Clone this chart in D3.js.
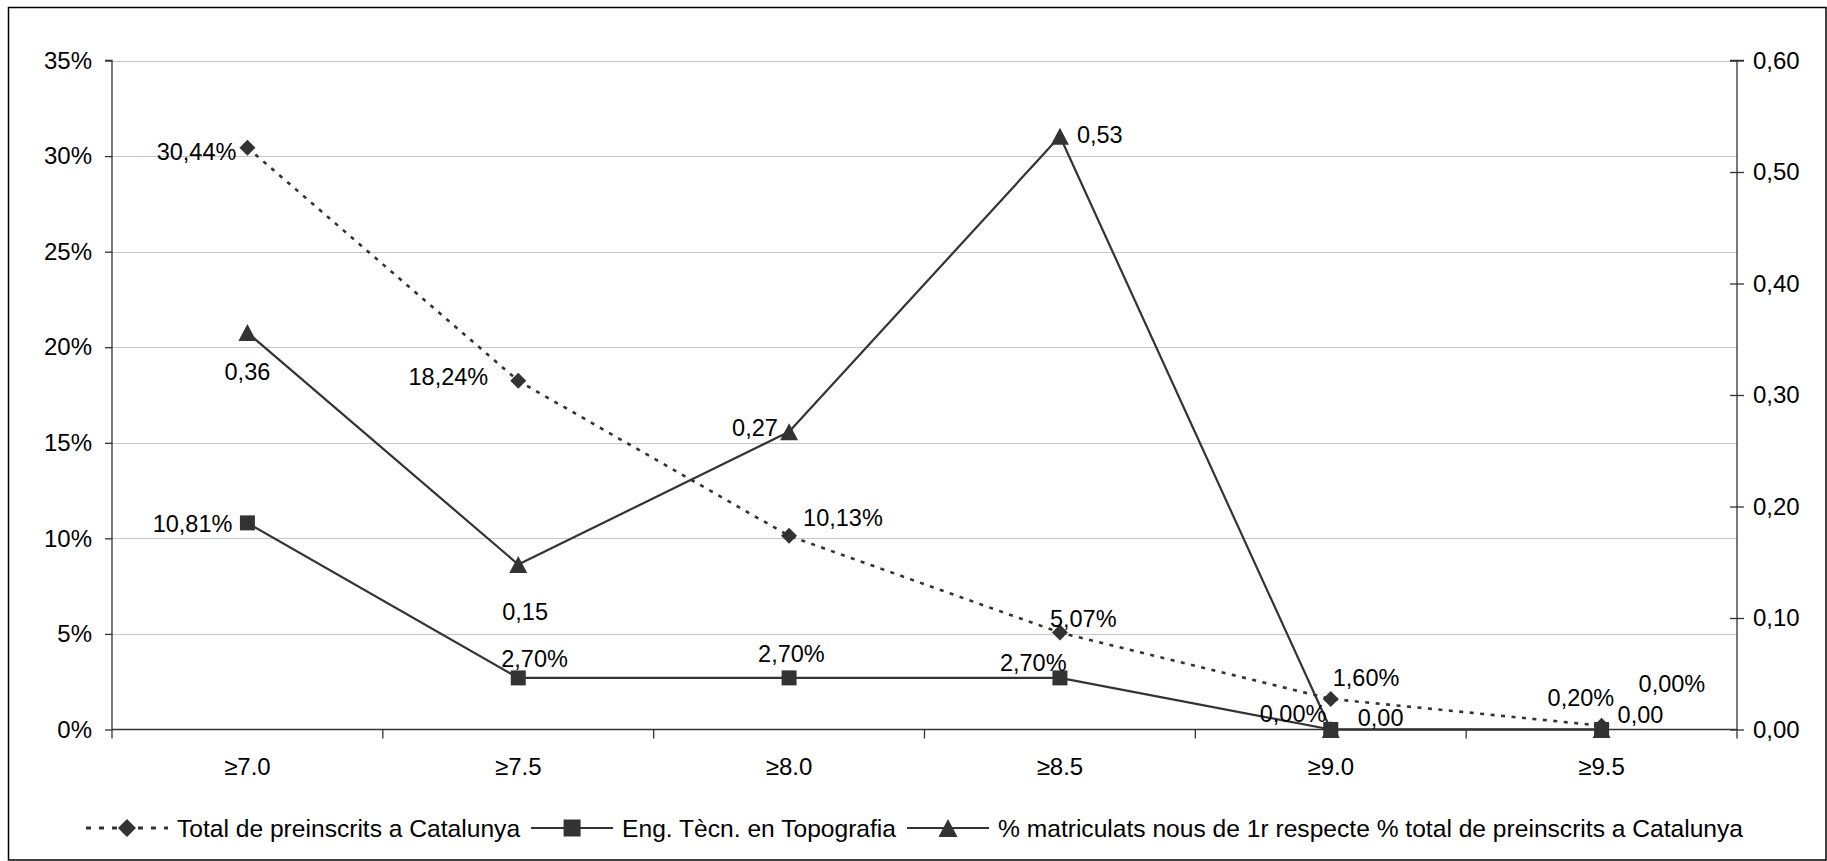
<!DOCTYPE html>
<html>
<head>
<meta charset="utf-8">
<script src="https://cdn.jsdelivr.net/npm/d3@7/dist/d3.min.js"></script>
<style>
  html, body { margin: 0; padding: 0; background: #fff; }
  svg { display: block; }
  text { font-family: "Liberation Sans", Arial, sans-serif; fill: #000; }
</style>
</head>
<body>
<svg id="chart" width="1827" height="861"></svg>
<script>
// ---------- data ----------
const categories = ["≥7.0", "≥7.5", "≥8.0", "≥8.5", "≥9.0", "≥9.5"];
const totalPreinscrits = [30.44, 18.24, 10.13, 5.07, 1.60, 0.20];      // % (left axis)
const engTopografia   = [10.81, 2.70, 2.70, 2.70, 0.00, 0.00];        // % (left axis)
const ratioMatriculats = [0.356, 0.148, 0.267, 0.532, 0.00, 0.00];     // ratio (right axis)
const leftTicks  = [0, 5, 10, 15, 20, 25, 30, 35];
const rightTicks = [0, 0.1, 0.2, 0.3, 0.4, 0.5, 0.6];
const seriesNames = [
  "Total de preinscrits a Catalunya",
  "Eng. Tècn. en Topografia",
  "% matriculats nous de 1r respecte % total de preinscrits a Catalunya"
];

// ---------- label placement (layout only) ----------
const labelPlaceTotal = [["end",-11,12],["end",-30,4],["start",14,-10],["start",-10,-6],["start",2,-13],["start",-54,-20]];
const labelPlaceEng   = [["end",-15,9],["start",-17,-11],["start",-31,-16],["start",-60,-7],["start",-71,-8],["start",37,-38]];
const labelPlaceRatio = [["middle",0,47],["start",-16,56],["start",-57,4],["start",17,7],["start",27,-4],["start",16,-7]];

// ---------- setup ----------
const svg = d3.select("#chart");
const pLeft = 112, pRight = 1737, pTop = 60.5, pBottom = 729.5;
const ink = "#333333";
const fs = "23.5px";

const fmt2 = v => v.toFixed(2).replace(".", ",");

const x = d3.scaleBand().domain(categories).range([pLeft, pRight]);
const yL = d3.scaleLinear().domain([0, 35]).range([pBottom, pTop]);
const yR = d3.scaleLinear().domain([0, 0.6]).range([pBottom, pTop]);
const cx = c => x(c) + x.bandwidth() / 2;

// outer frame
svg.append("rect").attr("x", 8.5).attr("y", 7.5).attr("width", 1817.5).attr("height", 852.5)
  .attr("fill", "none").attr("stroke", "#000").attr("stroke-width", 1.5);

// gridlines
svg.append("g").selectAll("line").data(leftTicks.filter(d => d > 0)).join("line")
  .attr("x1", pLeft).attr("x2", pRight)
  .attr("y1", d => Math.round(yL(d)) + 0.5).attr("y2", d => Math.round(yL(d)) + 0.5)
  .attr("stroke", "#c6c6c6").attr("stroke-width", 1.2);

// left axis
const gL = svg.append("g").attr("transform", `translate(${pLeft},0)`)
  .call(d3.axisLeft(yL).tickValues(leftTicks).tickFormat(d => d + "%").tickSize(7).tickPadding(13));
gL.selectAll("text").style("font-size", "24px").attr("fill", "#000");
gL.selectAll("line, path").attr("stroke", ink).attr("stroke-width", 1.3);
gL.select(".domain").attr("d", `M-7,${pTop}H0V${pBottom}`);

// right axis
const gR = svg.append("g").attr("transform", `translate(${pRight},0)`)
  .call(d3.axisRight(yR).tickValues(rightTicks).tickFormat(fmt2).tickSize(7).tickPadding(9));
gR.selectAll("text").style("font-size", "24px").attr("fill", "#000");
gR.selectAll(".tick line").attr("x1", -7);
gR.selectAll("line, path").attr("stroke", ink).attr("stroke-width", 1.3);
gR.select(".domain").attr("d", `M-7,${pTop}H7M0,${pTop}V${pBottom}`);

// x axis
const gX = svg.append("g").attr("transform", `translate(0,${pBottom})`)
  .call(d3.axisBottom(x).tickSize(0).tickPadding(28.5));
gX.selectAll("text").style("font-size", "24px").attr("fill", "#000");
gX.select(".domain").attr("stroke", ink).attr("stroke-width", 1.5).attr("d", `M${pLeft},0H${pRight}`);
const boundaries = categories.map(c => x(c)).concat([pRight]);
gX.append("g").selectAll("line").data(boundaries).join("line")
  .attr("x1", d => d).attr("x2", d => d).attr("y1", 0).attr("y2", 9)
  .attr("stroke", ink).attr("stroke-width", 1.3);

// ---------- markers ----------
const symbols = {
  diamond: (g, s) => g.append("path").attr("d", `M0,${-s}L${s},0L0,${s}L${-s},0Z`).attr("fill", ink),
  square: (g, s) => g.append("rect").attr("x", -s).attr("y", -s).attr("width", 2*s).attr("height", 2*s).attr("fill", ink),
  triangle: (g, s) => g.append("path").attr("d", `M0,${-s}L${s*1.06},${s}L${-s*1.06},${s}Z`).attr("fill", ink)
};

function drawSeries(values, yScale, symbol, size, dash) {
  const g = svg.append("g");
  const line = d3.line().x((d, i) => cx(categories[i])).y(d => yScale(d));
  g.append("path").attr("d", line(values)).attr("fill", "none")
    .attr("stroke", ink).attr("stroke-width", dash ? 2.6 : 2.2)
    .attr("stroke-dasharray", dash || null).attr("stroke-linejoin", "round");
  values.forEach((v, i) => {
    const mg = g.append("g").attr("transform", `translate(${cx(categories[i])},${yScale(v)})`);
    symbols[symbol](mg, size);
  });
  return g;
}

function drawLabels(values, yScale, labelFmt, places) {
  const g = svg.append("g");
  values.forEach((v, i) => {
    const p = places[i];
    g.append("text").attr("x", cx(categories[i]) + p[1]).attr("y", yScale(v) + p[2])
      .attr("text-anchor", p[0]).style("font-size", fs).text(labelFmt(v));
  });
}

drawSeries(totalPreinscrits, yL, "diamond", 8, "4,6.5");
drawSeries(engTopografia, yL, "square", 7.5, null);
drawSeries(ratioMatriculats, yR, "triangle", 8.5, null);

drawLabels(totalPreinscrits, yL, v => fmt2(v) + "%", labelPlaceTotal);
drawLabels(engTopografia, yL, v => fmt2(v) + "%", labelPlaceEng);
drawLabels(ratioMatriculats, yR, fmt2, labelPlaceRatio);

// ---------- legend ----------
const legendY = 828;
const legendSymbols = [["diamond", 9, "5,8"], ["square", 8.5, null], ["triangle", 9, null]];
const lg = svg.append("g");
let cursor = 0;
seriesNames.forEach((name, i) => {
  const ig = lg.append("g").attr("transform", `translate(${cursor},0)`);
  ig.append("line").attr("x1", 0).attr("x2", 82).attr("y1", legendY).attr("y2", legendY)
    .attr("stroke", ink).attr("stroke-width", legendSymbols[i][2] ? 2.8 : 2.2)
    .attr("stroke-dasharray", legendSymbols[i][2]);
  const mg = ig.append("g").attr("transform", `translate(41,${legendY})`);
  symbols[legendSymbols[i][0]](mg, legendSymbols[i][1]);
  const t = ig.append("text").attr("x", 91).attr("y", legendY + 8.7).style("font-size", "24.6px").text(name);
  const w = t.node().getComputedTextLength();
  cursor += 91 + w + 11;
});
const totalW = cursor - 11;
lg.attr("transform", `translate(${914.5 - totalW / 2},0)`);
</script>
</body>
</html>
